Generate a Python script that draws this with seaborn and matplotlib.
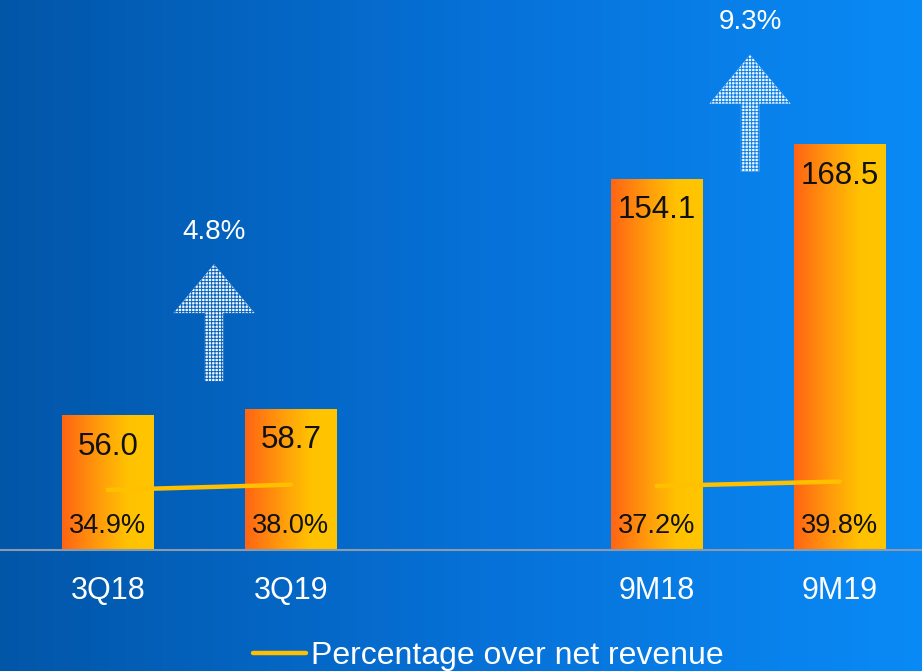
import numpy as np
import pandas as pd
import matplotlib
matplotlib.use("Agg")
import matplotlib.pyplot as plt
import seaborn as sns
from matplotlib.colors import LinearSegmentedColormap
from matplotlib.patches import Polygon
from matplotlib.lines import Line2D

# ---------------- data ----------------
periods = ["3Q18", "3Q19", "9M18", "9M19"]
groups = ["Q", "Q", "9M", "9M"]
values = [56.0, 58.7, 154.1, 168.5]
pct_values = [34.9, 38.0, 37.2, 39.8]
growth_labels = ["4.8%", "9.3%"]
legend_label = "Percentage over net revenue"

# ---------------- style ----------------
sns.set_theme(style="white")
plt.rcParams["font.family"] = ["Liberation Sans", "DejaVu Sans"]
plt.rcParams["hatch.linewidth"] = 0.7

W, H = 922, 671
fig = plt.figure(figsize=(W / 100, H / 100), dpi=100)

# background gradient
bg_cmap = LinearSegmentedColormap.from_list("bg", ["#0256A8", "#0670D6", "#0A8AF6"])
bg = fig.add_axes([0, 0, 1, 1], zorder=-10)
bg.imshow(np.linspace(0, 1, 256)[None, :], cmap=bg_cmap, aspect="auto", extent=[0, 1, 0, 1])
bg.set_axis_off()

# main axes: bottom edge at the bar baseline
base_px = 550
ax = fig.add_axes([0, (H - base_px) / H, 1, base_px / H])
ax.patch.set_alpha(0)

order = ["3Q18", "3Q19", " ", "9M18", "9M19"]
df = pd.DataFrame({"period": periods, "value": values, "group": groups})
sns.barplot(data=df, x="period", y="value", order=order, width=0.5,
            color="#FF9000", edgecolor="none", saturation=1, ax=ax)

xpos = [order.index(p) for p in periods]
ymax = base_px / 2.41
ax.set_xlim(-0.59, 4.45)
ax.set_ylim(0, ymax)

# gradient fill of bars
bar_cmap = LinearSegmentedColormap.from_list(
    "bar", [(0, "#FF6414"), (0.45, "#FFA20A"), (0.72, "#FFC200"), (1, "#FFC500")])
for p in list(ax.patches):
    x0, y0 = p.get_x(), p.get_y()
    w, h = p.get_width(), p.get_height()
    if h <= 0 or np.isnan(h):
        continue
    im = ax.imshow(np.linspace(0, 1, 256)[None, :], cmap=bar_cmap, aspect="auto",
                   extent=[x0, x0 + w, y0, y0 + h], zorder=p.get_zorder() + 0.1)
    im.set_clip_path(p)
ax.set_xlim(-0.59, 4.45)
ax.set_ylim(0, ymax)

# value & percentage labels inside bars
for x, v, pc in zip(xpos, values, pct_values):
    ax.text(x, v - 13.2, f"{v:.1f}", ha="center", va="center", fontsize=22.5,
            color="#111111", zorder=5)
    ax.text(x, 10, f"{pc:.1f}%", ha="center", va="center", fontsize=19.5,
            color="#111111", zorder=5)

# growth arrows (dotted)
arrow_x = [0.58, 3.51]
arrow_base = [70.1, 157.0]
arrow_h, head_len, half_w, half_shaft = 48.5, 20.3, 0.222, 0.05
for gx, gb, lab in zip(arrow_x, arrow_base, growth_labels):
    tip = gb + arrow_h
    neck = tip - head_len
    poly = [(gx - half_shaft, gb), (gx + half_shaft, gb), (gx + half_shaft, neck),
            (gx + half_w, neck), (gx, tip), (gx - half_w, neck), (gx - half_shaft, neck)]
    frac = (gx + 0.59) / 5.04
    hc = bg_cmap(frac)
    ax.add_patch(Polygon(poly, closed=True, facecolor="#F5F9FE", edgecolor=hc,
                         hatch="+++++", linewidth=0, zorder=4))
    ax.text(gx, tip + 13.5, lab, ha="center", va="center", fontsize=20,
            color="white", zorder=5)

# axes styling
ax.set_xticks(xpos)
ax.set_xticklabels(periods)
ax.tick_params(axis="x", length=0, colors="white", labelsize=22, pad=19)
ax.set_yticks([])
ax.set_xlabel("")
ax.set_ylabel("")
for s in ["top", "right", "left"]:
    ax.spines[s].set_visible(False)
ax.spines["bottom"].set_color("#8A9BB0")
ax.spines["bottom"].set_linewidth(1.5)

# percentage line on a secondary axis
ax2 = ax.twinx()
dfl = pd.DataFrame({"x": xpos, "pct": pct_values, "group": groups})
sns.lineplot(data=dfl, x="x", y="pct", units="group", estimator=None,
             color="#FFC000", linewidth=3.2, ax=ax2, legend=False,
             solid_capstyle="round")
ax2.set_ylim(0, base_px / 1.72)
ax2.set_xlim(-0.59, 4.45)
ax2.set_axis_off()

# legend
handle = Line2D([], [], color="#FFC000", linewidth=3.2)
leg = fig.legend([handle], [legend_label], loc="center", bbox_to_anchor=(0.53, 0.0225),
                 frameon=False, fontsize=23, handlelength=1.66, handletextpad=0.15,
                 labelcolor="white")

fig.savefig("out.png", dpi=100)
